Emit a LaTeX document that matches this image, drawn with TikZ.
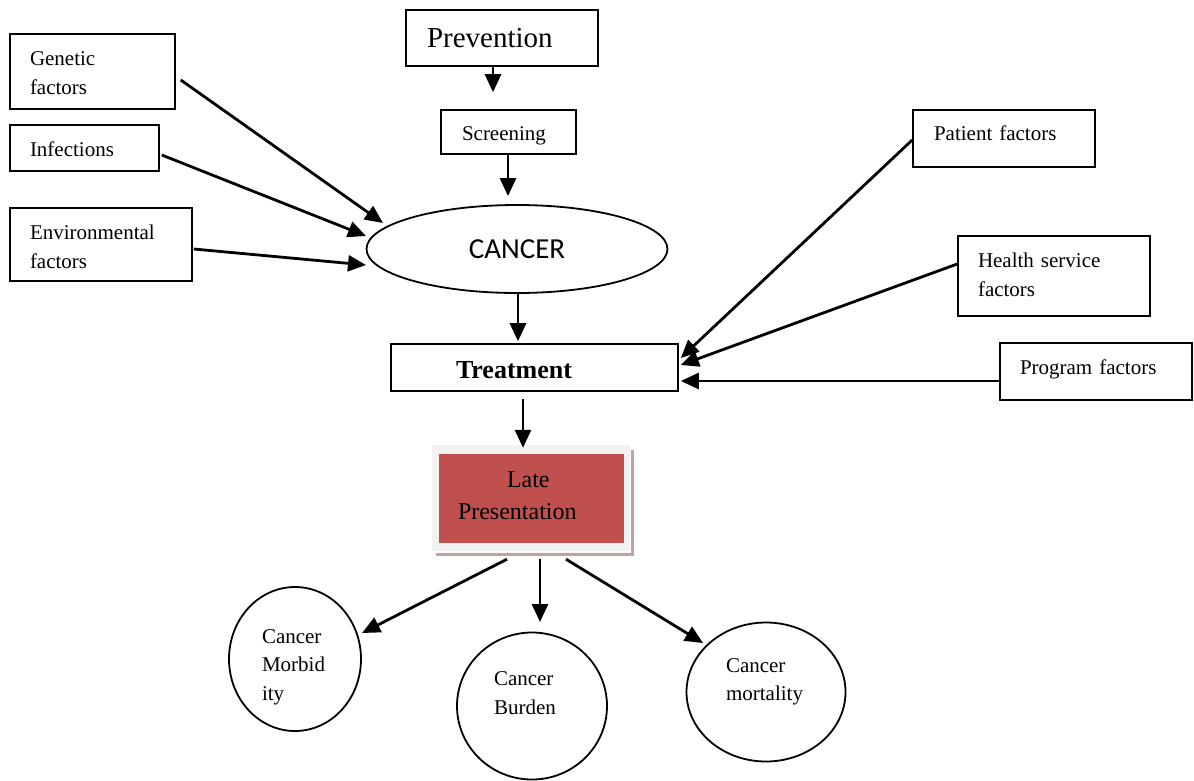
\documentclass[tikz,border=0pt]{standalone}
\usepackage{fontspec}
\setmainfont{Liberation Serif}
\newfontfamily\calibri{Carlito}
\usetikzlibrary{arrows.meta,calc,shapes.geometric}
\definecolor{latered}{HTML}{C0504D}
\definecolor{frame}{HTML}{F2F2F2}
\definecolor{shadowc}{HTML}{C4A2A2}
\tikzset{
  box/.style={draw=black, line width=1.6pt, rectangle, inner ysep=0pt, align=left, font=\fontsize{21}{29}\selectfont},
  oval/.style={draw=black, line width=1.8pt, ellipse, inner sep=0pt},
  arr/.style={line width=2.8pt, -{Triangle[length=18pt,width=16pt]}},
}
\begin{document}
\begin{tikzpicture}[x=1pt,y=-1pt]
\useasboundingbox (0,0) rectangle (1194,780);
% top boxes
\node[box, minimum width=192pt, minimum height=56pt, inner xsep=21pt, text width=150pt, text height=20pt, text depth=1pt, font=\fontsize{29}{34}\selectfont] (prev) at (502,38) {Prevention};
\node[box, minimum width=135pt, minimum height=44pt, inner xsep=21pt, text width=93pt, text height=18pt, text depth=2pt] (scr) at (508.5,132) {Screening};
% left boxes
\node[box, minimum width=165pt, minimum height=75pt, inner xsep=20pt, text width=125pt, text height=15pt, text depth=28pt] (gen) at (92.5,71.5) {Genetic\\factors};
\node[box, minimum width=149pt, minimum height=46pt, inner xsep=20pt, text width=109pt, text height=18pt, text depth=2pt] (inf) at (84.5,148) {Infections};
\node[box, minimum width=182pt, minimum height=73pt, inner xsep=20pt, text width=142pt, text height=15pt, text depth=26pt] (env) at (101,244.5) {Environmental\\factors};
% cancer
\node[oval, minimum width=301pt, minimum height=88pt, font=\calibri\fontsize{29}{34}\selectfont] (cancer) at (517,249) {CANCER};
% treatment
\node[box, minimum width=287pt, minimum height=47pt, inner xsep=65pt, text width=157pt, text height=22pt, text depth=0pt, font=\bfseries\fontsize{26}{30}\selectfont] (treat) at (534.5,367.5) {Treatment};
% right boxes
\node[box, minimum width=182pt, minimum height=57pt, inner xsep=21pt, text width=140pt, text height=15pt, text depth=12pt] (pat) at (1004,138.5) {Patient factors};
\node[box, minimum width=192pt, minimum height=80pt, inner xsep=20pt, text width=152pt, text height=15pt, text depth=33pt] (hea) at (1054,276) {Health service\\factors};
\node[box, minimum width=192pt, minimum height=57pt, inner xsep=20pt, text width=152pt, text height=15pt, text depth=10pt] (prog) at (1096,371.5) {Program factors};
% late presentation
\fill[shadowc] (436,450) rectangle (634,556);
\fill[white] (433,447) rectangle (631,553);
\fill[frame] (432,445) rectangle (630,551);
\node[rectangle, fill=latered, minimum width=185pt, minimum height=89pt, inner xsep=19pt, inner ysep=0pt, text width=147pt, text height=20pt, text depth=43pt, align=left, font=\fontsize{24}{32}\selectfont] (late) at (531.5,498.5) {\hspace*{49pt}Late\\Presentation};
% outcome circles
\node[oval, minimum width=132pt, minimum height=144pt, text width=66pt, text height=20pt, text depth=52pt, align=left, font=\fontsize{21}{28.5}\selectfont] (morb) at (295,659) {Cancer\\Morbid\\ity};
\node[oval, minimum width=150pt, minimum height=147pt, text width=76pt, text height=20pt, text depth=62pt, align=left, font=\fontsize{21}{29}\selectfont] (burd) at (532,706) {Cancer\\Burden};
\node[oval, minimum width=159pt, minimum height=139pt, text width=80pt, text height=20pt, text depth=60pt, align=left, font=\fontsize{21}{28}\selectfont] (mort) at (766,692) {Cancer\\mortality};
% arrows
\draw[arr] ($(prev.south)+(-9,0)$) -- ($(scr.north)+(-15.5,-17)$);
\draw[arr] ($(scr.south)+(-0.5,0)$) -- ($(cancer.north)+(-9,-8)$);
\draw[arr] ($(gen.east)+(5,8.5)$) -- ($(cancer.center)+(-134,-26)$);
\draw[arr] ($(inf.east)+(2,7)$) -- ($(cancer.center)+(-151,-13)$);
\draw[arr] ($(env.east)+(1,4.5)$) -- ($(cancer.center)+(-151,16)$);
\draw[arr] ($(cancer.south)+(1,0)$) -- ($(treat.north)+(-16.5,-2)$);
\draw[arr] ($(pat.west)+(0,1.5)$) -- ($(treat.east)+(2,-9.5)$);
\draw[arr] ($(hea.west)+(0,-12)$) -- ($(treat.east)+(2,-2.5)$);
\draw[arr] ($(prog.west)+(0,9.5)$) -- ($(treat.east)+(2,13.5)$);
\draw[arr] ($(treat.south)+(-11.5,7)$) -- ($(late.north)+(-8.5,-6)$);
\draw[arr] ($(late.south)+(-24.5,16)$) -- ($(morb.center)+(67,-26)$);
\draw[arr] ($(late.south)+(8.5,16)$) -- ($(burd.center)+(8,-84)$);
\draw[arr] ($(late.south)+(34.5,16)$) -- ($(mort.center)+(-63,-49)$);
\end{tikzpicture}
\end{document}
